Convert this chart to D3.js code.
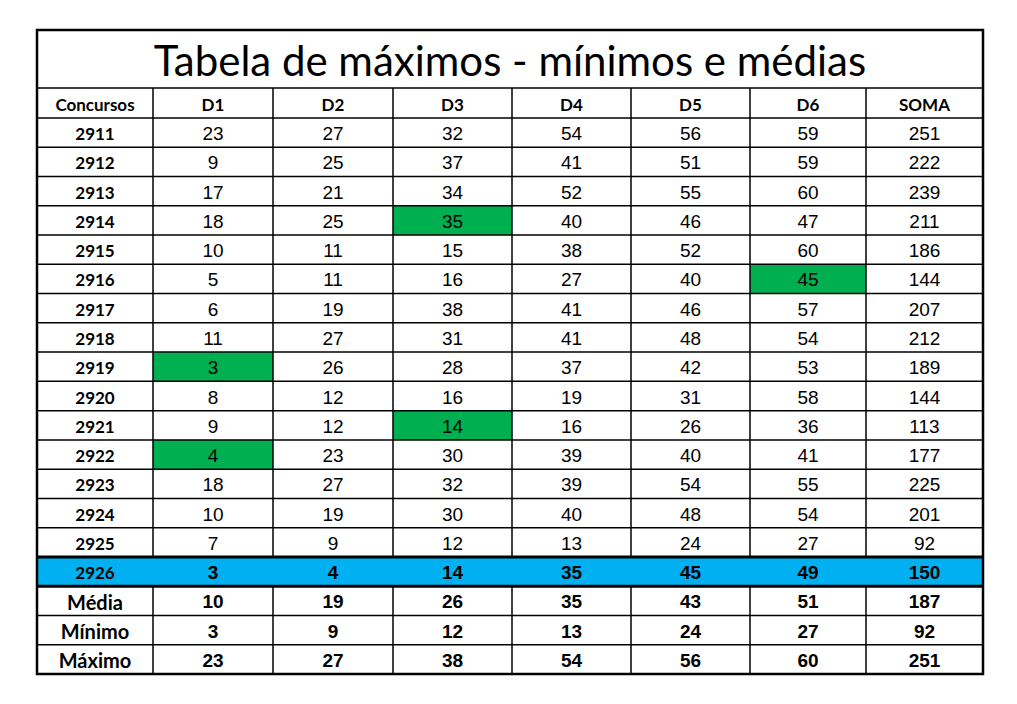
<!DOCTYPE html>
<html><head><meta charset="utf-8">
<script src="https://cdn.jsdelivr.net/npm/d3@7"></script>
<style>body{margin:0;background:#fff}</style>
</head><body>
<div id="chart"></div>
<script>
const title = 'Tabela de máximos - mínimos e médias'
const columns = ['Concursos', 'D1', 'D2', 'D3', 'D4', 'D5', 'D6', 'SOMA']
const concursos = ['2911','2912','2913','2914','2915','2916','2917','2918','2919','2920','2921','2922','2923','2924','2925','2926']
const values = [
  [23,27,32,54,56,59,251],
  [9,25,37,41,51,59,222],
  [17,21,34,52,55,60,239],
  [18,25,35,40,46,47,211],
  [10,11,15,38,52,60,186],
  [5,11,16,27,40,45,144],
  [6,19,38,41,46,57,207],
  [11,27,31,41,48,54,212],
  [3,26,28,37,42,53,189],
  [8,12,16,19,31,58,144],
  [9,12,14,16,26,36,113],
  [4,23,30,39,40,41,177],
  [18,27,32,39,54,55,225],
  [10,19,30,40,48,54,201],
  [7,9,12,13,24,27,92],
  [3,4,14,35,45,49,150]
]
const statLabels = ['Média', 'Mínimo', 'Máximo']
const statValues = [
  [10,19,26,35,43,51,187],
  [3,9,12,13,24,27,92],
  [23,27,38,54,56,60,251]
]
// highlighted cells: [row index, column index in values]
const greenCells = [[3,2],[5,5],[8,0],[10,2],[11,0]]
const blueRow = 15

const colEdges = [37,153,273,393,512,631,750,866,983]
const tableTop = 30, titleH = 58, headH = 30, tableBottom = 674
const nRows = concursos.length + statLabels.length
const rowH = (tableBottom - tableTop - titleH - headH) / nRows

const svg = d3.select('#chart').append('svg').attr('width', 1017).attr('height', 704)
const x = i => colEdges[i]
const y = d3.scaleLinear().domain([0, nRows]).range([tableTop + titleH + headH, tableBottom])

const rows = concursos.map((c, i) => ({ label: c, vals: values[i], i }))
  .concat(statLabels.map((s, k) => ({ label: s, vals: statValues[k], i: concursos.length + k, stat: true })))

// fills
svg.selectAll('rect.green').data(greenCells).enter().append('rect')
  .attr('x', d => x(d[1] + 1)).attr('y', d => y(d[0]))
  .attr('width', d => x(d[1] + 2) - x(d[1] + 1)).attr('height', rowH)
  .attr('fill', '#00b050')
svg.append('rect').attr('x', x(0)).attr('y', y(blueRow)).attr('width', x(8) - x(0)).attr('height', rowH)
  .attr('fill', '#00b0f0')

// grid lines
const g = svg.append('g').attr('stroke', '#000')
g.append('line').attr('x1', x(0)).attr('x2', x(8)).attr('y1', tableTop + titleH).attr('y2', tableTop + titleH).attr('stroke-width', 1.5)
for (let r = 0; r <= nRows; r++) {
  const yy = y(r)
  g.append('line').attr('x1', x(0)).attr('x2', x(8)).attr('y1', yy).attr('y2', yy)
    .attr('stroke-width', (r === blueRow || r === blueRow + 1) ? 3 : 1.5)
}
for (let c = 1; c < 8; c++) {
  g.append('line').attr('x1', x(c)).attr('x2', x(c)).attr('y1', tableTop + titleH).attr('y2', y(blueRow)).attr('stroke-width', 1.5)
  g.append('line').attr('x1', x(c)).attr('x2', x(c)).attr('y1', y(blueRow + 1)).attr('y2', tableBottom).attr('stroke-width', 1.5)
}
g.append('rect').attr('x', x(0)).attr('y', tableTop).attr('width', x(8) - x(0)).attr('height', tableBottom - tableTop)
  .attr('fill', 'none').attr('stroke-width', 2.5)

// title
svg.append('text').attr('x', (x(0) + x(8)) / 2).attr('y', tableTop + titleH / 2 + 1)
  .attr('text-anchor', 'middle').attr('dominant-baseline', 'central')
  .attr('font-family', 'Lato, sans-serif').attr('font-size', 42).text(title)

// header
svg.selectAll('text.head').data(columns).enter().append('text')
  .attr('x', (d, i) => (x(i) + x(i + 1)) / 2).attr('y', tableTop + titleH + headH / 2 + 1)
  .attr('text-anchor', 'middle').attr('dominant-baseline', 'central')
  .attr('font-family', 'Lato, sans-serif').attr('font-weight', 'bold').attr('font-size', 17).text(d => d)

// body
const rg = svg.selectAll('g.row').data(rows).enter().append('g')
  .attr('transform', d => `translate(0,${y(d.i) + rowH / 2 + 1})`)
rg.append('text').attr('x', (x(0) + x(1)) / 2).attr('text-anchor', 'middle').attr('dominant-baseline', 'central')
  .attr('font-family', 'Lato, sans-serif').attr('font-weight', 'bold')
  .attr('font-size', d => d.stat ? 20 : 17).text(d => d.label)
rg.selectAll('text.v').data(d => d.vals.map(v => ({ v, bold: d.stat || d.i === blueRow }))).enter().append('text')
  .attr('x', (d, j) => (x(j + 1) + x(j + 2)) / 2).attr('text-anchor', 'middle').attr('dominant-baseline', 'central')
  .attr('font-family', 'Liberation Sans, Arial, sans-serif').attr('font-size', 19)
  .attr('font-weight', d => d.bold ? 'bold' : 'normal').text(d => d.v)
</script>
</body></html>
